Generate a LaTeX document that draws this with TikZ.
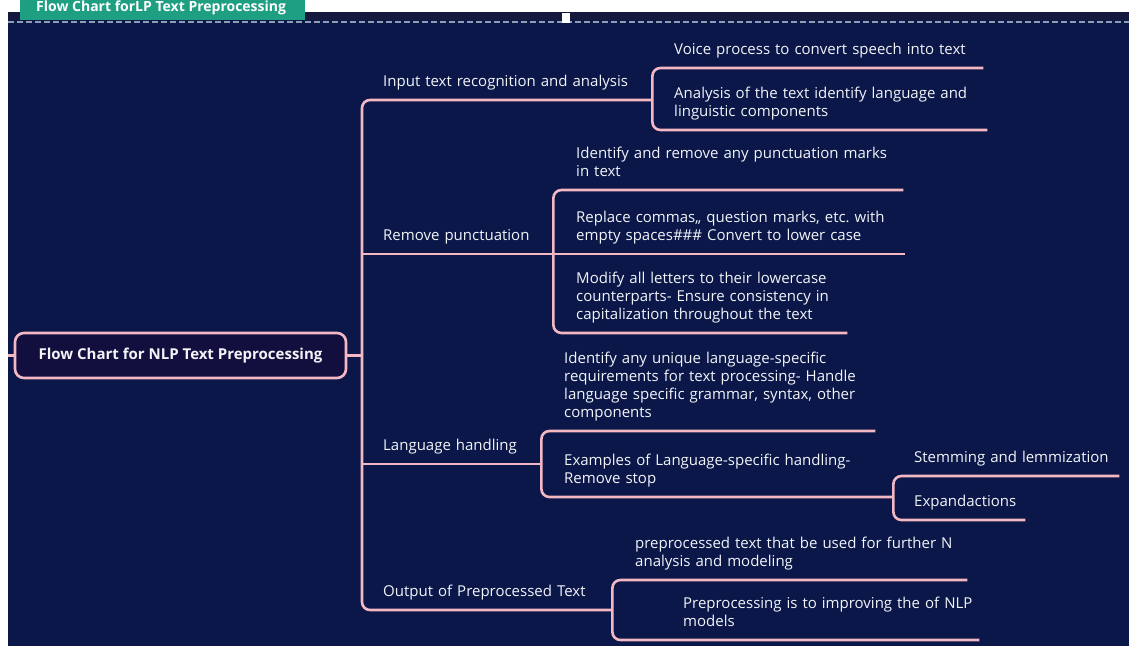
\documentclass[tikz,border=0pt]{standalone}
\usepackage{fontspec}
\setmainfont{Open Sans}
\frenchspacing
\definecolor{navy}{HTML}{0A1748}
\definecolor{rootfill}{HTML}{120F3E}
\definecolor{pinkline}{HTML}{F4B8C4}
\definecolor{tabgreen}{HTML}{1F9F82}
\definecolor{topband}{HTML}{16193E}
\definecolor{dashgray}{HTML}{8E9FB4}
\definecolor{txt}{HTML}{F2F4F8}
\tikzset{
	link/.style={draw=pinkline, line width=2.6pt, rounded corners=8pt},
	leaf/.style={anchor=south west, inner xsep=0pt, inner ysep=7.5pt, align=left, text=txt,
		font=\fontsize{15}{18}\selectfont, execute at end node=\strut},
	rootbox/.style={draw=pinkline, line width=2.6pt, rounded corners=9pt, fill=rootfill, text=txt,
		font=\bfseries\fontsize{15}{18}\selectfont, minimum width=331pt, minimum height=45pt}
}

\begin{document}
\begin{tikzpicture}[x=1pt,y=-1pt]
			%%%%% START %%%%%
			\useasboundingbox (0,0) rectangle (1129,646);
			\fill[white] (0,0) rectangle (1129,646);
			\fill[navy] (8,12) rectangle (1129,646);
			\fill[topband] (8,12) rectangle (1129,20);
			
			\fill[tabgreen] (20,0) rectangle (305,20);
			\begin{scope}
				\clip (20,0) rectangle (305,20);
				\node[anchor=base west, inner sep=0pt, text=white, font=\bfseries\fontsize{14}{16}\selectfont] (tabtitle) at (36,11) {Flow Chart forLP Text Preprocessing};
			\end{scope}
			\draw[dashgray, line width=1.2pt, dash pattern=on 6pt off 3pt] (8,22) -- (1129,22);
			\fill[white] (562,13) rectangle (570,23);
			
			\node[rootbox] (root) at (180.5,355.5) {Flow Chart for NLP Text Preprocessing};
			\coordinate (edge) at (8,355.5);
			\coordinate (trunk) at (362,355.5);
			
			\node[leaf, text width=269pt] (input) at (383,100) {Input text recognition and analysis};
			\node[leaf, text width=309pt] (voice) at (674,68) {Voice process to convert speech into text};
			\node[leaf, text width=313pt] (analysis) at (674,130) {Analysis of the text identify language and\\linguistic components};
			
			\node[leaf, text width=170pt] (punct) at (383,254) {Remove punctuation};
			\node[leaf, text width=327pt] (identify) at (576,190) {Identify and remove any punctuation marks\\in text};
			\node[leaf, text width=329pt] (replace) at (576,254) {Replace commas,, question marks, etc. with\\empty spaces\#\#\# Convert to lower case};
			\node[leaf, text width=271pt] (modify) at (576,333) {Modify all letters to their lowercase\\counterparts- Ensure consistency in\\capitalization throughout the text};
			
			\node[leaf, text width=158pt] (lang) at (383,464) {Language handling};
			\node[leaf, text width=311pt] (unique) at (564,431) {Identify any unique language-specific\\requirements for text processing- Handle\\language specific grammar, syntax, other\\components};
			\node[leaf, text width=329pt] (examples) at (564,497) {Examples of Language-specific handling-\\Remove stop};
			\node[leaf, text width=205pt] (stem) at (914,476) {Stemming and lemmization};
			\node[leaf, text width=111pt] (expand) at (914,520) {Expandactions};
			
			\node[leaf, text width=229pt] (output) at (383,610) {Output of Preprocessed Text};
			\node[leaf, text width=332pt] (further) at (635,580) {preprocessed text that be used for further N\\analysis and modeling};
			\node[leaf, text width=296pt] (improve) at (683,640) {Preprocessing is to improving the of NLP\\models};
			
			% trunk and branches
			\draw[link] (edge) -- (root.west);
			\draw[link] (root.east) -- (trunk);
			\draw[link] (input.south east) -- (input.south west -| trunk) -- (output.south west -| trunk) -- (output.south east);
			\draw[link] (punct.south west -| trunk) -- (punct.south east);
			\draw[link] (lang.south west -| trunk) -- (lang.south east);
			
			% children
			\draw[link] (voice.south east) -- (voice.south west -| input.south east) -- (analysis.south west -| input.south east) -- (analysis.south east);
			\draw[link] (identify.south east) -- (identify.south west -| punct.south east) -- (modify.south west -| punct.south east) -- (modify.south east);
			\draw[link] (replace.south west -| punct.south east) -- (replace.south east);
			\draw[link] (unique.south east) -- (unique.south west -| lang.south east) -- (examples.south west -| lang.south east) -- (examples.south east);
			\draw[link] (stem.south east) -- (stem.south west -| examples.south east) -- (expand.south west -| examples.south east) -- (expand.south east);
			\draw[link] (further.south east) -- (further.south west -| output.south east) -- (improve.south west -| output.south east) -- (improve.south east);
			%%%%% END %%%%%
\end{tikzpicture}
\end{document}
